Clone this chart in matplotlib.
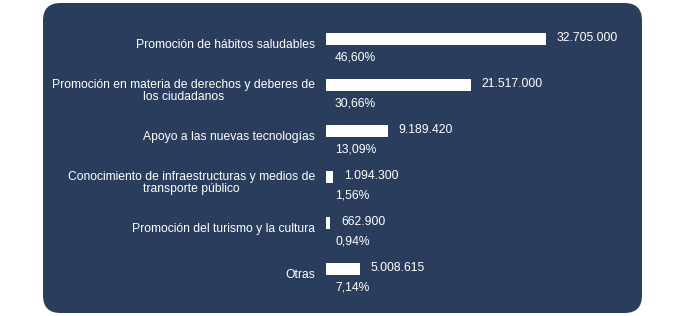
import matplotlib
matplotlib.use("Agg")
import matplotlib.pyplot as plt
from matplotlib.patches import FancyBboxPatch

# data
categories = [
    "Promoción de hábitos saludables",
    "Promoción en materia de derechos y deberes de\nlos ciudadanos",
    "Apoyo a las nuevas tecnologías",
    "Conocimiento de infraestructuras y medios de\ntransporte público",
    "Promoción del turismo y la cultura",
    "Otras",
]
amounts = [32705000, 21517000, 9189420, 1094300, 662900, 5008615]
percents = ["46,60%", "30,66%", "13,09%", "1,56%", "0,94%", "7,14%"]

W, H = 700, 316
panel_color = "#2b3d5d"
plt.rcParams["font.family"] = ["Liberation Sans", "DejaVu Sans"]

fig = plt.figure(figsize=(W / 100, H / 100), dpi=100)
fig.patch.set_facecolor("white")

# rounded dark panel behind the chart
panel = FancyBboxPatch((43 / W, 3 / H), 599 / W, 310 / H,
                       boxstyle="round,pad=0,rounding_size=0.025",
                       transform=fig.transFigure, facecolor=panel_color,
                       edgecolor="none", mutation_aspect=W / H, zorder=-5)
fig.patches.append(panel)

# axes placed so that bars start at x=326px
left, right = 326, 642
top, bottom = 16, 292
ax = fig.add_axes([left / W, 1 - bottom / H, (right - left) / W, (bottom - top) / H])
ax.set_zorder(5)
ax.set_facecolor("none")
px_per_unit = 220 / 32705000
ax.set_xlim(0, (right - left) / px_per_unit)
ax.set_ylim(len(categories) - 0.5, -0.5)

ypos = list(range(len(categories)))
ax.barh(ypos, amounts, height=0.24, color="white", edgecolor="none")

fs = 8.7
for i, (cat, val, pct) in enumerate(zip(categories, amounts, percents)):
    t = ax.annotate(cat, xy=(0, i), xytext=(-11, -6), textcoords="offset pixels",
                    ha="right", va="center", fontsize=fs, color="white",
                    linespacing=1.05, annotation_clip=False)
    t.set_multialignment("center")
    ax.annotate(f"{val:,}".replace(",", "."), xy=(val, i), xytext=(11, 1),
                textcoords="offset pixels", ha="left", va="center",
                fontsize=fs, color="white", annotation_clip=False)
    ax.annotate(pct, xy=(0, i), xytext=(9, -18), textcoords="offset pixels",
                ha="left", va="center", fontsize=fs, color="white",
                annotation_clip=False)

ax.axis("off")
fig.savefig("out.png", dpi=100, facecolor="white")
